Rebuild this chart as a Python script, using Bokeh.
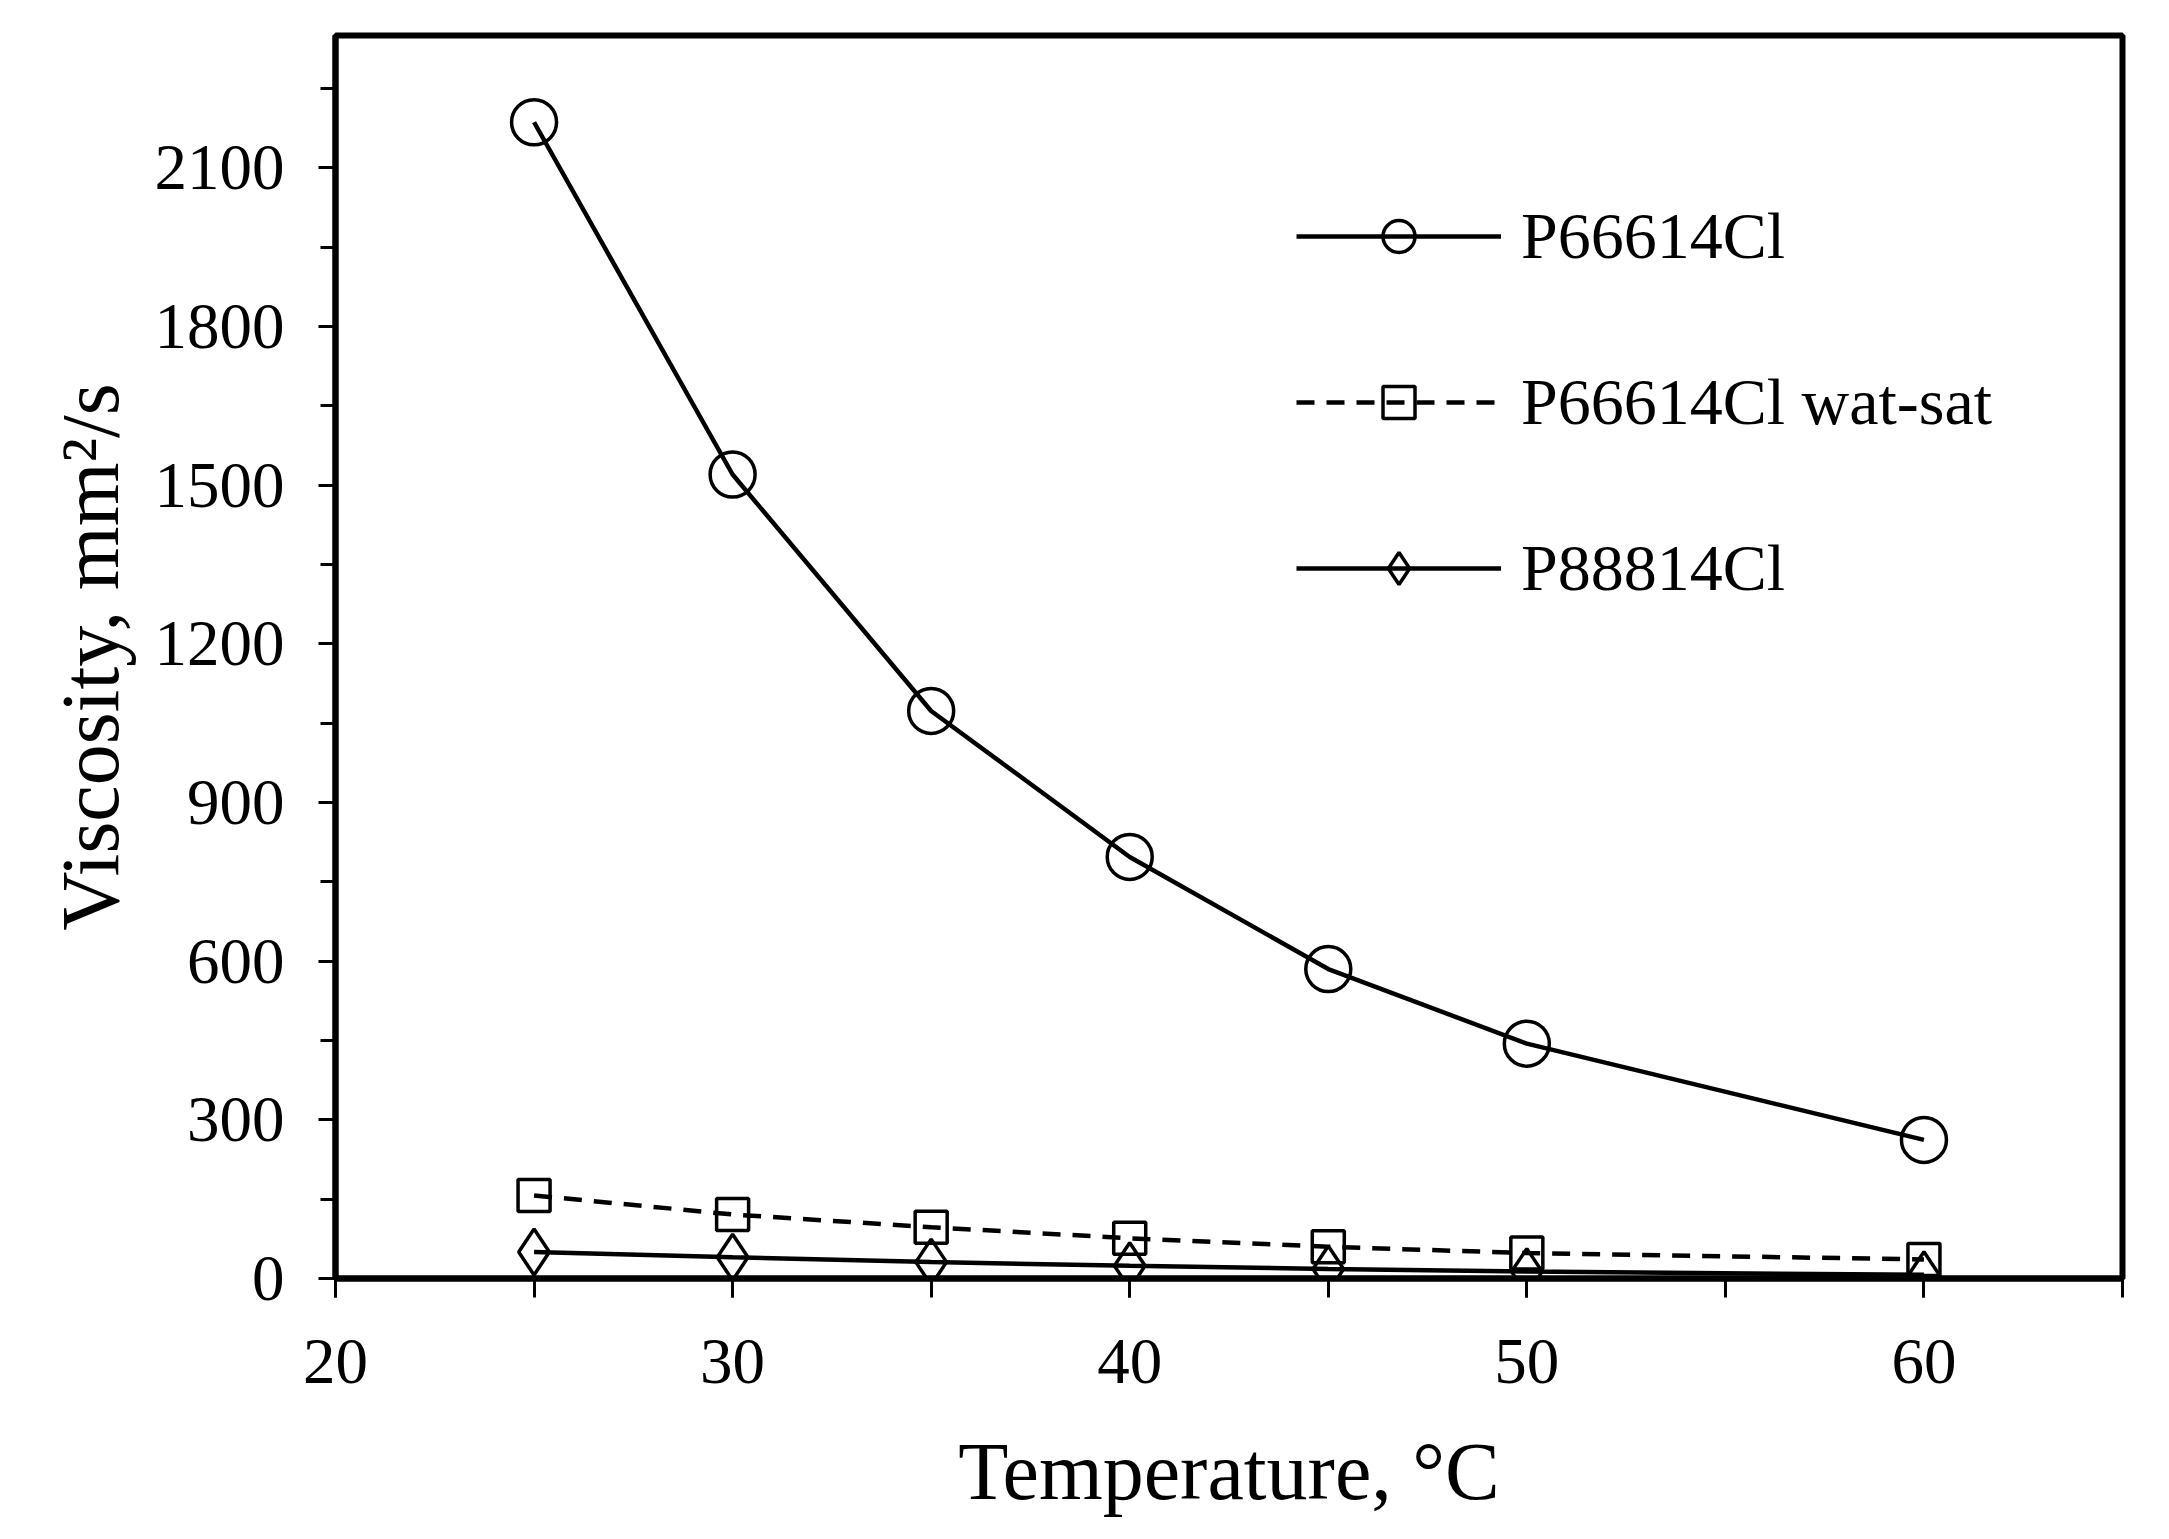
from bokeh.plotting import figure
from bokeh.models import SingleIntervalTicker, Range1d
from bokeh.embed import file_html
from bokeh.resources import INLINE

# Data
temperature = [25, 30, 35, 40, 45, 50, 60]
p66614cl = [2186, 1520, 1073, 797, 585, 444, 262]
p66614cl_wat_sat = [157, 121, 97, 76, 60, 48, 36]
p88814cl = [50, 40, 31, 24, 18, 13, 7]

FONT = "Liberation Serif"

p = figure(width=2150, height=1520,
           x_range=Range1d(20, 65), y_range=Range1d(0, 2350),
           output_backend="svg", toolbar_location=None,
           min_border_left=335, min_border_right=28,
           min_border_top=35, min_border_bottom=242)

p.xgrid.visible = False
p.ygrid.visible = False
p.outline_line_color = "black"
p.outline_line_width = 6
p.background_fill_color = "white"
p.border_fill_color = "white"

# Series
p.line(temperature, p66614cl, line_color="black", line_width=4.5, legend_label="P66614Cl")
p.scatter(temperature, p66614cl, marker="circle", size=45, line_color="black", line_width=3.5,
          fill_alpha=0, legend_label="P66614Cl")

p.line(temperature, p66614cl_wat_sat, line_color="black", line_width=4.5, line_dash="18 12",
       legend_label="P66614Cl wat-sat")
p.scatter(temperature, p66614cl_wat_sat, marker="square", size=32, line_color="black", line_width=3.5,
          fill_alpha=0, legend_label="P66614Cl wat-sat")

p.line(temperature, p88814cl, line_color="black", line_width=4.5, legend_label="P88814Cl")
p.scatter(temperature, p88814cl, marker="diamond", size=46, line_color="black", line_width=3.5,
          fill_alpha=0, legend_label="P88814Cl")

# Axes
xa = p.xaxis[0]
xa.ticker = SingleIntervalTicker(interval=10, num_minor_ticks=2)
xa.axis_label = "Temperature, °C"
ya = p.yaxis[0]
ya.ticker = SingleIntervalTicker(interval=300, num_minor_ticks=2)
ya.axis_label = "Viscosity, mm²/s"

for ax in (xa, ya):
    ax.axis_line_color = "black"
    ax.axis_line_width = 6
    ax.major_tick_line_color = "black"
    ax.minor_tick_line_color = "black"
    ax.major_tick_line_width = 3
    ax.minor_tick_line_width = 3
    ax.major_tick_in = 0
    ax.minor_tick_in = 0
    ax.major_label_text_font = FONT
    ax.major_label_text_font_size = "65px"
    ax.major_label_text_color = "black"
    ax.axis_label_text_font = FONT
    ax.axis_label_text_font_size = "82px"
    ax.axis_label_text_font_style = "normal"
    ax.axis_label_text_color = "black"

xa.major_tick_out = 19
xa.minor_tick_out = 19
xa.major_label_standoff = 42
xa.axis_label_standoff = 40
ya.major_tick_out = 17
ya.minor_tick_out = 15
ya.major_label_standoff = 34
ya.axis_label_standoff = 16

# Legend
lg = p.legend[0]
lg.location = (961, 670)
lg.border_line_alpha = 0
lg.background_fill_alpha = 0
lg.padding = 0
lg.margin = 0
lg.glyph_width = 205
lg.glyph_height = 80
lg.label_height = 80
lg.spacing = 86
lg.label_standoff = 20
lg.label_text_font = FONT
lg.label_text_font_size = "66px"
lg.label_text_color = "black"

open("out.html", "w").write(file_html(p, INLINE))
